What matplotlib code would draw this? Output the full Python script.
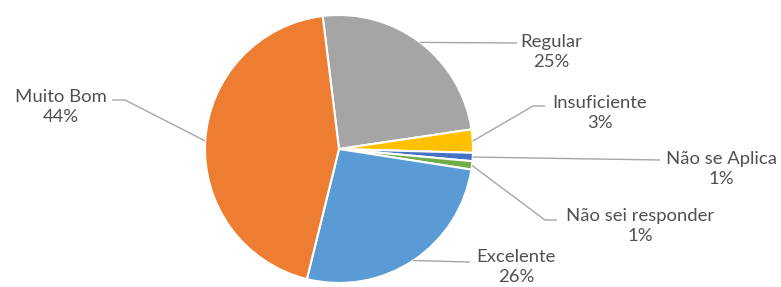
import matplotlib
matplotlib.use('Agg')
import matplotlib.pyplot as plt
import numpy as np

# --- Data (clockwise from the top) ---
categories = ['Regular', 'Insuficiente', 'Não se Aplica', 'Não sei responder',
              'Excelente', 'Muito Bom']
values = [24.6, 2.8, 1.0, 1.0, 26.4, 44.2]
colors = ['#A5A5A5', '#FFC000', '#4472C4', '#70AD47', '#5B9BD5', '#ED7D31']

# label centre (x, y) in pixels from top-left, and leader line points
label_pos = [(551, 52), (600, 113), (721, 169), (640, 226), (516, 267), (61, 107)]
leader_pts = [
    [(517, 43)],
    [(533, 106), (545, 106)],
    [(660, 160)],
    [(545, 220), (557, 220)],
    [(470, 262)],
    [(125, 100), (112, 100)],
]

W, H = 781, 287
CX, CY, R = 339, 149, 134

plt.rcParams['font.family'] = ['Lato', 'DejaVu Sans']
fig = plt.figure(figsize=(W / 100, H / 100), dpi=100)
ax = fig.add_axes([0, 0, 1, 1])

wedges, _ = ax.pie(values, colors=colors, startangle=97, counterclock=False,
                   center=(CX, H - CY), radius=R, frame=True,
                   wedgeprops=dict(edgecolor='white', linewidth=1.5))

for w, name, v, (lx, ly), pts in zip(wedges, categories, values, label_pos, leader_pts):
    mid = np.deg2rad((w.theta1 + w.theta2) / 2)
    sx = CX + R * np.cos(mid)
    sy = (H - CY) + R * np.sin(mid)
    xs = [sx] + [p[0] for p in pts]
    ys = [sy] + [H - p[1] for p in pts]
    ax.plot(xs, ys, color='#A6A6A6', linewidth=1.0, solid_capstyle='butt')
    ax.text(lx, H - ly, f'{name}\n{round(v)}%', ha='center', va='center',
            fontsize=13.3, color='#505050', linespacing=1.25)

ax.set_xlim(0, W)
ax.set_ylim(0, H)
ax.set_aspect('equal')
ax.axis('off')

plt.savefig('out.png', dpi=100)
